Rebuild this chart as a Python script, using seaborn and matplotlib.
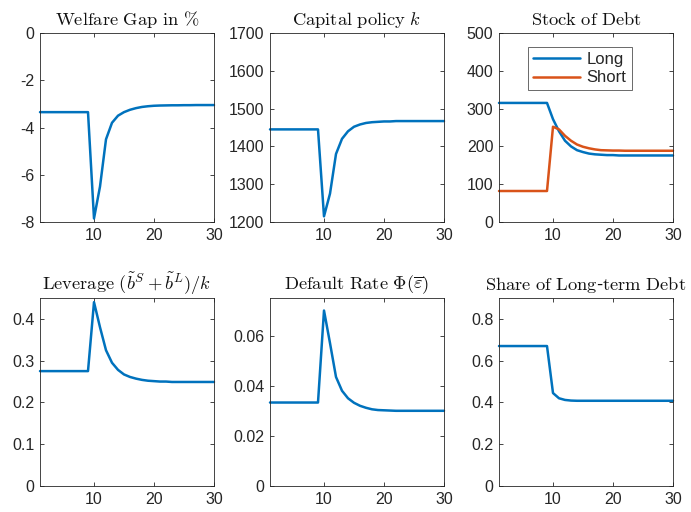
import matplotlib
matplotlib.use("Agg")
import matplotlib.pyplot as plt
import seaborn as sns
import numpy as np
import pandas as pd

# horizon t = 1..30, shock hits at t = 10
periods = np.arange(1, 31)

welfare_gap = [-3.35] * 9 + [-7.85, -6.5, -4.5, -3.8, -3.5, -3.35, -3.25, -3.18, -3.13, -3.1,
                             -3.08, -3.07, -3.065, -3.06, -3.06, -3.055, -3.055, -3.05, -3.05, -3.05, -3.05]
capital = [1445] * 9 + [1215, 1275, 1380, 1420, 1440, 1452, 1458, 1462, 1464, 1465,
                        1466, 1466, 1467, 1467, 1467, 1467, 1467, 1467, 1467, 1467, 1467]
debt_long = [315] * 9 + [272, 240, 215, 200, 190, 185, 181, 179, 178, 177,
                         177, 176, 176, 176, 176, 176, 176, 176, 176, 176, 176]
debt_short = [82] * 9 + [252, 245, 228, 215, 205, 199, 195, 192, 190, 189.5,
                         189, 189, 188.5, 188.5, 188.5, 188.5, 188.5, 188.5, 188.5, 188.5, 188.5]
leverage = [0.275] * 9 + [0.44, 0.38, 0.325, 0.295, 0.278, 0.267, 0.261, 0.257, 0.254, 0.252,
                          0.251, 0.25, 0.25, 0.249, 0.249, 0.249, 0.249, 0.249, 0.249, 0.249, 0.249]
default_rate = [0.0333] * 9 + [0.0700, 0.0570, 0.0435, 0.0380, 0.0350, 0.0332, 0.0320, 0.0312, 0.0306, 0.0303,
                               0.0302, 0.0301, 0.0300, 0.0300, 0.0300, 0.0300, 0.0300, 0.0300, 0.0300, 0.0300, 0.0300]
share_long = [0.67] * 9 + [0.445, 0.42, 0.412, 0.409, 0.408, 0.408, 0.408, 0.408, 0.408, 0.408,
                           0.408, 0.408, 0.408, 0.408, 0.408, 0.408, 0.408, 0.408, 0.408, 0.408, 0.408]

BLUE = '#0072BD'
ORANGE = '#D95319'

sns.set_theme(style="ticks")
plt.rcParams['font.family'] = ['Liberation Sans', 'DejaVu Sans']
plt.rcParams['mathtext.fontset'] = 'cm'
plt.rcParams['xtick.direction'] = 'in'
plt.rcParams['ytick.direction'] = 'in'

fig = plt.figure(figsize=(6.91, 5.12), dpi=100, facecolor='white')

lefts = [40 / 691, 270 / 691, 499 / 691]
w = 174 / 691
bottoms = [1 - 222 / 512, 1 - 486 / 512]
heights = [189 / 512, 188 / 512]

panels = [
    (r'$\mathrm{Welfare\ Gap\ in\ \%}$', {'': welfare_gap}, (-8, 0), np.arange(-8, 1, 2)),
    (r'$\mathrm{Capital\ policy\ }k$', {'': capital}, (1200, 1700), np.arange(1200, 1701, 100)),
    (r'$\mathrm{Stock\ of\ Debt}$', {'Long': debt_long, 'Short': debt_short}, (0, 500), np.arange(0, 501, 100)),
    (r'$\mathrm{Leverage\ }(\tilde{b}^S+\tilde{b}^L)/k$', {'': leverage}, (0, 0.45), np.arange(0, 0.41, 0.1)),
    (r'$\mathrm{Default\ Rate\ }\Phi(\overline{\varepsilon})$', {'': default_rate}, (0, 0.075), np.arange(0, 0.061, 0.02)),
    (r'$\mathrm{Share\ of\ Long}$-$\mathrm{term\ Debt}$', {'': share_long}, (0, 0.9), np.arange(0, 0.81, 0.2)),
]

tick_fmt = [lambda v: f'{v:g}', lambda v: f'{v:g}', lambda v: f'{v:g}',
            lambda v: '0' if v == 0 else f'{v:.1f}', lambda v: '0' if v == 0 else f'{v:.2f}',
            lambda v: '0' if v == 0 else f'{v:.1f}']

for i, (title, series, ylim, yticks) in enumerate(panels):
    r, c = divmod(i, 3)
    ax = fig.add_axes([lefts[c], bottoms[r], w, heights[r]])
    df = pd.DataFrame(series)
    df['t'] = periods
    long_df = df.melt(id_vars='t', var_name='series', value_name='value')
    hue_names = list(series.keys())
    palette = dict(zip(hue_names, [BLUE, ORANGE]))
    sns.lineplot(data=long_df, x='t', y='value', hue='series', palette=palette,
                 linewidth=1.8, ax=ax, legend=(len(hue_names) > 1))
    for ln in ax.get_lines():
        ln.set_clip_on(False)
    ax.set_xlim(1, 30)
    ax.set_ylim(*ylim)
    ax.set_xticks([10, 20, 30])
    ax.set_yticks(yticks)
    ax.set_yticklabels([tick_fmt[i](v) for v in yticks])
    ax.set_xlabel('')
    ax.set_ylabel('')
    ax.set_title(title, fontsize=13.3, pad=6, color='#111111')
    ax.tick_params(axis='both', labelsize=11.5, colors='#262626', length=3, width=0.6,
                   top=True, right=True, pad=4)
    for s in ax.spines.values():
        s.set_visible(True)
        s.set_color('#262626')
        s.set_linewidth(0.6)
    if len(hue_names) > 1:
        leg = ax.legend(loc='upper right', bbox_to_anchor=(0.81, 0.97), fontsize=12,
                        frameon=True, fancybox=False, handlelength=2.8, borderpad=0.3,
                        labelspacing=0.2, handletextpad=0.4)
        leg.get_frame().set_edgecolor('#262626')
        leg.get_frame().set_linewidth(0.6)

plt.savefig('out.png', dpi=100, facecolor='white')
